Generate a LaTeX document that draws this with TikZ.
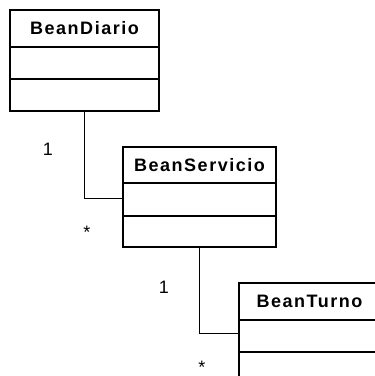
\documentclass[tikz,border=0pt]{standalone}
\usepackage{fontspec}
\setmainfont{Liberation Sans}
\newfontfamily\clstitlefamily{Liberation Sans}[LetterSpace=8.5]
\newcommand\clstitlefont{\clstitlefamily\bfseries\fontsize{18}{18}\selectfont}
\newcommand\clsmultfont{\fontsize{18}{18}\selectfont}
\begin{document}
\begin{tikzpicture}[x=1pt,y=-1pt,
  part/.style={draw, line width=1.8pt, anchor=north west, inner sep=0pt, outer sep=0pt},
  titlepart/.style={part, font=\clstitlefont},
  conn/.style={draw, line width=1pt},
  mult/.style={anchor=base, inner sep=0pt, font=\clsmultfont}]
\useasboundingbox (0,0) rectangle (375,376);
\clip (0,0) rectangle (375,376);

% BeanDiario
\node[titlepart, minimum width=149pt, minimum height=37pt] (diario) at (10,10) {BeanDiario};
\node[part, minimum width=149pt, minimum height=32pt] (diario-attr) at (diario.south west) {};
\node[part, minimum width=149pt, minimum height=32pt] (diario-ops) at (diario-attr.south west) {};

% BeanServicio
\node[titlepart, minimum width=153pt, minimum height=36pt] (servicio) at (123,147) {BeanServicio};
\node[part, minimum width=153pt, minimum height=33pt] (servicio-attr) at (servicio.south west) {};
\node[part, minimum width=153pt, minimum height=31pt] (servicio-ops) at (servicio-attr.south west) {};

% BeanTurno
\node[titlepart, minimum width=141pt, minimum height=37pt] (turno) at (239,283) {BeanTurno};
\node[part, minimum width=141pt, minimum height=32pt] (turno-attr) at (turno.south west) {};
\node[part, minimum width=141pt, minimum height=32pt] (turno-ops) at (turno-attr.south west) {};

% associations
\draw[conn] (diario-ops.south) |- ([yshift=1.5pt]servicio-attr.west);
\draw[conn] (servicio-ops.south) |- ([yshift=3pt]turno-attr.west);

% multiplicities
\node[mult] (m1) at (48,155) {1};
\node[mult] (m2) at (87,238) {*};
\node[mult] (m3) at (164,293) {1};
\node[mult] (m4) at (202,373) {*};
\end{tikzpicture}
\end{document}
